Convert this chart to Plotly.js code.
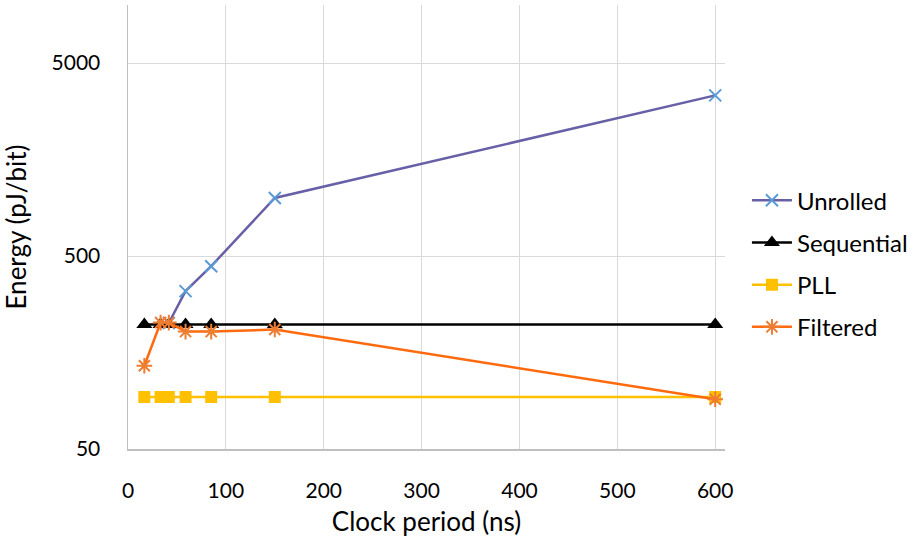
<!DOCTYPE html>
<html>
<head>
<meta charset="utf-8">
<script src="https://cdn.plot.ly/plotly-3.0.1.min.js"></script>
<style>
  html, body { margin: 0; padding: 0; background: #fff; }
  #chart { width: 917px; height: 541px; }
</style>
</head>
<body>
<div id="chart"></div>
<script>
// Clock periods (ns) and energy per bit (pJ/bit) for each design
const unrolledX = [41.7, 58.8, 85, 150, 600];
const unrolledY = [225, 329, 443, 1000, 3400];

const sequentialX = [16.7, 33.3, 41.7, 58.8, 85, 150, 600];
const sequentialY = [221, 221, 221, 221, 221, 221, 221];

const pllX = [16.7, 33.3, 41.7, 58.8, 85, 150, 600];
const pllY = [93, 93, 93, 93, 93, 93, 93];

const filteredX = [16.7, 33.3, 41.7, 58.8, 85, 150, 600];
const filteredY = [135, 226, 226, 203, 203, 208, 90.5];

const xTicks = [0, 100, 200, 300, 400, 500, 600];
const yTicks = [50, 500, 5000];

const FONT = 'Lato, "Open Sans", sans-serif';

const traces = [
  {
    name: 'Unrolled', x: unrolledX, y: unrolledY, mode: 'lines+markers',
    legendgroup: 'a',
    line: { color: '#6760A6', width: 2.5 },
    marker: { symbol: 'x-thin-open', size: 12, color: '#5B9BD5',
              line: { color: '#5B9BD5', width: 2 } }
  },
  {
    name: 'Sequential', x: sequentialX, y: sequentialY, mode: 'lines+markers',
    legendgroup: 'b',
    line: { color: '#000000', width: 2.5 },
    marker: { symbol: 'triangle-up', size: 14, color: '#000000' }
  },
  {
    name: 'PLL', x: pllX, y: pllY, mode: 'lines+markers',
    legendgroup: 'c',
    line: { color: '#FFC000', width: 2.5 },
    marker: { symbol: 'square', size: 12, color: '#FFC000' }
  },
  {
    name: 'Filtered', x: filteredX, y: filteredY, mode: 'lines+markers',
    legendgroup: 'd',
    line: { color: '#FF6A0E', width: 2.5 },
    marker: { symbol: 'asterisk-open', size: 13, color: '#ED7D31',
              line: { color: '#ED7D31', width: 2 } }
  }
];

const layout = {
  width: 917, height: 541,
  margin: { l: 128, r: 191, t: 5, b: 92 },
  paper_bgcolor: '#ffffff', plot_bgcolor: '#ffffff',
  font: { family: FONT, size: 21, color: '#000000' },
  showlegend: true,
  legend: {
    x: 1.035, xanchor: 'left', y: 0.61, yanchor: 'top',
    font: { family: FONT, size: 24, color: '#000000' },
    itemwidth: 40, tracegroupgap: 8, bgcolor: 'rgba(0,0,0,0)'
  },
  xaxis: {
    range: [0, 610], tickvals: xTicks, ticktext: xTicks.map(String),
    showgrid: true, gridcolor: '#D9D9D9', gridwidth: 1,
    zeroline: false, showline: true, linecolor: '#BFBFBF', linewidth: 1.5,
    ticks: '', ticklabelstandoff: 22,
    tickfont: { family: FONT, size: 21, color: '#000000' },
    title: { text: 'Clock period (ns)', standoff: 12,
             font: { family: FONT, size: 26, color: '#000000' } }
  },
  yaxis: {
    type: 'log', range: [Math.log10(50), 4],
    tickvals: yTicks, ticktext: yTicks.map(String),
    showgrid: true, gridcolor: '#D9D9D9', gridwidth: 1,
    zeroline: false, showline: true, linecolor: '#BFBFBF', linewidth: 1.5,
    ticks: '', ticklabelstandoff: 22,
    tickfont: { family: FONT, size: 21, color: '#000000' },
    title: { text: 'Energy (pJ/bit)', standoff: 18,
             font: { family: FONT, size: 26, color: '#000000' } }
  }
};

Plotly.newPlot('chart', traces, layout, { displayModeBar: false, staticPlot: true });
</script>
</body>
</html>
